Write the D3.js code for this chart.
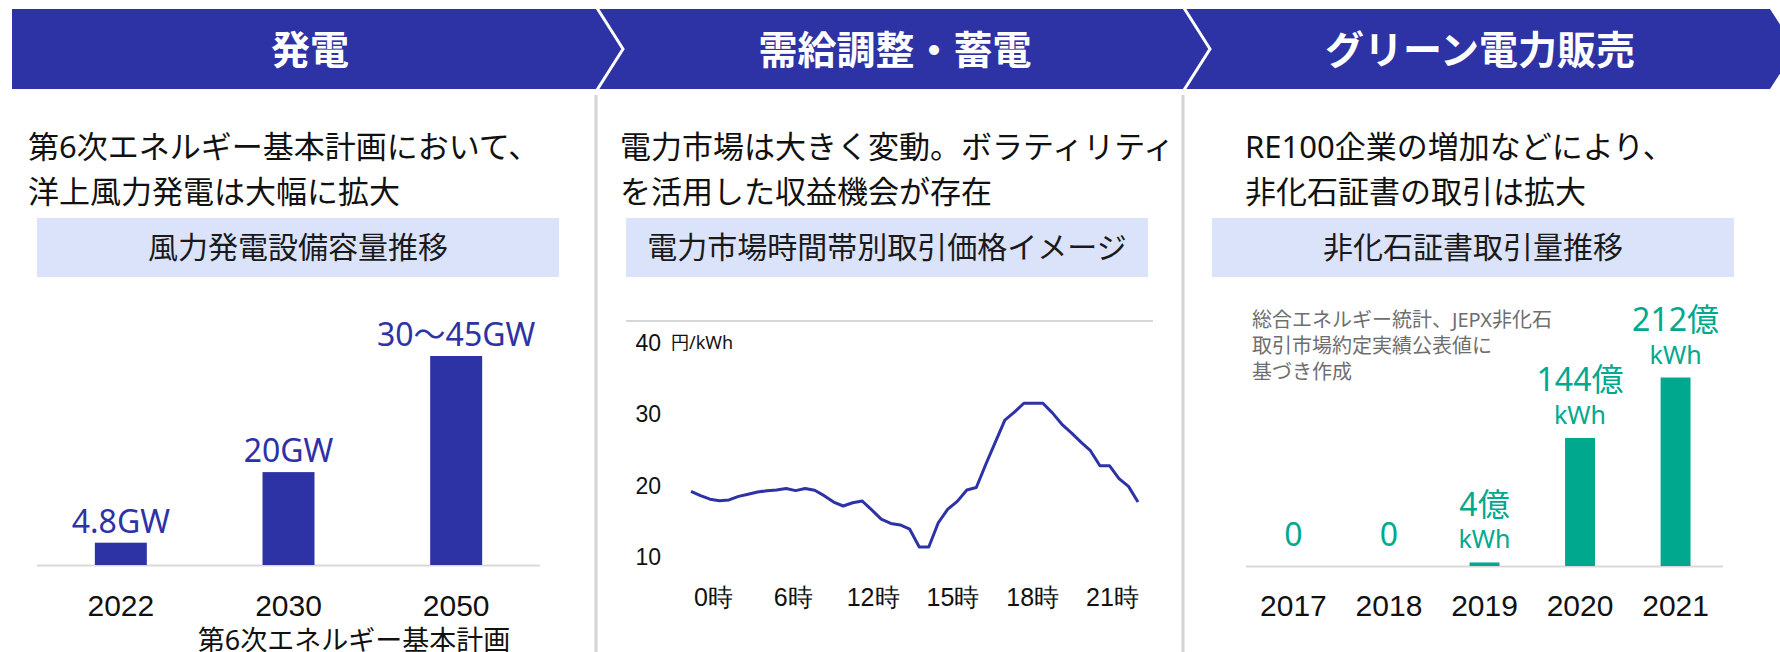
<!DOCTYPE html>
<html>
<head>
<meta charset="utf-8">
<script src="https://cdn.jsdelivr.net/npm/d3@7/dist/d3.min.js"></script>
<style>
    body { margin: 0; background: #ffffff; }
    svg { display: block; font-family: "Noto Sans", "Noto Sans CJK JP", sans-serif; }
</style>
</head>
<body>
<svg id="chart" width="1780" height="652"></svg>
<script>
// ---- texts ----
var headers = ["発電", "需給調整・蓄電", "グリーン電力販売"];
var leads = [
    ["第6次エネルギー基本計画において、", "洋上風力発電は大幅に拡大"],
    ["電力市場は大きく変動。ボラティリティ", "を活用した収益機会が存在"],
    ["RE100企業の増加などにより、", "非化石証書の取引は拡大"]
];
var boxTitles = ["風力発電設備容量推移", "電力市場時間帯別取引価格イメージ", "非化石証書取引量推移"];

// ---- panel 1: wind capacity (GW) ----
var windYears = ["2022", "2030", "2050"];
var windValues = [4.8, 20, 45];
var windLabels = ["4.8GW", "20GW", "30～45GW"];
var windNote = "第6次エネルギー基本計画";

// ---- panel 2: price by time slot (円/kWh), half-hour slots ----
var priceHours = ["0時", "6時", "12時", "15時", "18時", "21時"];
var priceTicks = [10, 20, 30, 40];
var priceValues = [19.2, 18.6, 18.1, 17.9, 18.0, 18.5, 18.8, 19.1, 19.3, 19.4, 19.6, 19.3,
    19.6, 19.35, 18.6, 17.7, 17.15, 17.6, 17.85, 16.6, 15.3, 14.7, 14.5, 13.9,
    11.4, 11.4, 14.8, 16.7, 17.8, 19.4, 19.75, 23.0, 26.1, 29.2, 30.3, 31.55,
    31.55, 31.55, 30.2, 28.6, 27.4, 26.1, 24.9, 22.8, 22.8, 21.0, 19.9, 17.7];

// ---- panel 3: non-fossil certificate volume (億kWh) ----
var certYears = ["2017", "2018", "2019", "2020", "2021"];
var certValues = [0, 0, 4, 144, 212];
var certLabels = [["0"], ["0"], ["4億", "kWh"], ["144億", "kWh"], ["212億", "kWh"]];
var sourceNote = ["総合エネルギー統計、JEPX非化石", "取引市場約定実績公表値に", "基づき作成"];

var BLUE = "#2d32a5";
var GREEN = "#00a88e";

var svg = d3.select("#chart");

// header band with chevrons
svg.append("polygon")
    .attr("points", "12,9 1770,9 1796,49 1770,89 12,89")
    .attr("fill", BLUE);
[597, 1184].forEach(function (x) {
    svg.append("polyline")
        .attr("points", x + ",8 " + (x + 26) + ",49 " + x + ",90")
        .attr("fill", "none")
        .attr("stroke", "#ffffff")
        .attr("stroke-width", 3);
    // panel separators
    svg.append("line")
        .attr("x1", x - 1).attr("x2", x - 1)
        .attr("y1", 95).attr("y2", 652)
        .attr("stroke", "#d4d4d4")
        .attr("stroke-width", 3);
});

var headerX = [310, 895, 1480];
svg.selectAll("text.header")
    .data(headers)
    .enter().append("text")
    .attr("class", "header")
    .attr("x", function (d, i) { return headerX[i]; })
    .attr("y", 50)
    .attr("dy", "0.36em")
    .attr("text-anchor", "middle")
    .attr("fill", "#ffffff")
    .attr("font-size", 39)
    .attr("font-weight", 700)
    .attr("font-family", "'Noto Sans CJK JP', sans-serif")
    .text(function (d) { return d; });

// lead texts
var leadX = [28, 620, 1245];
leads.forEach(function (lines, i) {
    lines.forEach(function (t, j) {
        svg.append("text")
            .attr("x", leadX[i])
            .attr("y", 147 + j * 45)
            .attr("dy", "0.36em")
            .attr("font-size", 31)
            .attr("fill", "#111111")
            .text(t);
    });
});

// light box titles
var boxX = [37, 626, 1212];
boxTitles.forEach(function (t, i) {
    svg.append("rect")
        .attr("x", boxX[i]).attr("y", 218)
        .attr("width", 522).attr("height", 59)
        .attr("fill", "#dae3f9");
    svg.append("text")
        .attr("x", boxX[i] + 261)
        .attr("y", 247)
        .attr("dy", "0.36em")
        .attr("text-anchor", "middle")
        .attr("font-size", 30)
        .attr("fill", "#1a1a1a")
        .text(t);
});

// ================= panel 1 =================
var x1 = d3.scaleBand().domain(windYears).range([37, 540]).paddingInner(0.69).paddingOuter(0.345);
var y1 = d3.scaleLinear().domain([0, 45]).range([565, 356]);

svg.append("line")
    .attr("x1", 37).attr("x2", 540)
    .attr("y1", 565.5).attr("y2", 565.5)
    .attr("stroke", "#d9d9d9").attr("stroke-width", 2);

svg.selectAll("rect.wind")
    .data(windValues)
    .enter().append("rect")
    .attr("class", "wind")
    .attr("x", function (d, i) { return x1(windYears[i]); })
    .attr("y", function (d) { return y1(d); })
    .attr("width", x1.bandwidth())
    .attr("height", function (d) { return y1(0) - y1(d); })
    .attr("fill", BLUE);

svg.selectAll("text.windLabel")
    .data(windValues)
    .enter().append("text")
    .attr("class", "windLabel")
    .attr("x", function (d, i) { return x1(windYears[i]) + x1.bandwidth() / 2; })
    .attr("y", function (d) { return y1(d) - 10; })
    .attr("text-anchor", "middle")
    .attr("font-size", 32)
    .attr("fill", BLUE)
    .text(function (d, i) { return windLabels[i]; });

var ax1 = svg.append("g")
    .attr("transform", "translate(0,605)")
    .call(d3.axisBottom(x1).tickSize(0));
ax1.select(".domain").remove();
ax1.selectAll("text")
    .attr("y", 0).attr("dy", "0.36em")
    .attr("font-size", 30).attr("fill", "#111111")
    .attr("font-family", null);

svg.append("text")
    .attr("x", 354).attr("y", 640)
    .attr("dy", "0.36em")
    .attr("text-anchor", "middle")
    .attr("font-size", 27)
    .attr("fill", "#111111")
    .text(windNote);

// ================= panel 2 =================
var x2 = d3.scaleLinear().domain([0, priceValues.length - 1]).range([691, 1138]);
var y2 = d3.scaleLinear().domain([10, 40]).range([557, 343]);
var xh = d3.scalePoint().domain(priceHours).range([713, 1112]);

svg.append("line")
    .attr("x1", 626).attr("x2", 1153)
    .attr("y1", 321).attr("y2", 321)
    .attr("stroke", "#c8c8c8").attr("stroke-width", 1.5);

var ay2 = svg.append("g")
    .attr("transform", "translate(661,0)")
    .call(d3.axisLeft(y2).tickValues(priceTicks).tickSize(0).tickPadding(0));
ay2.select(".domain").remove();
ay2.selectAll("text")
    .attr("font-size", 23).attr("fill", "#111111")
    .attr("font-family", null);

svg.append("text")
    .attr("x", 671).attr("y", y2(40))
    .attr("dy", "0.36em")
    .attr("font-size", 18)
    .attr("fill", "#111111")
    .text("円/kWh");

var ax2 = svg.append("g")
    .attr("transform", "translate(0,597)")
    .call(d3.axisBottom(xh).tickSize(0));
ax2.select(".domain").remove();
ax2.selectAll("text")
    .attr("y", 0).attr("dy", "0.36em")
    .attr("font-size", 25).attr("fill", "#111111")
    .attr("font-family", null);

svg.append("path")
    .datum(priceValues)
    .attr("fill", "none")
    .attr("stroke", BLUE)
    .attr("stroke-width", 3)
    .attr("stroke-linejoin", "round")
    .attr("d", d3.line()
        .x(function (d, i) { return x2(i); })
        .y(function (d) { return y2(d); }));

// ================= panel 3 =================
var x3 = d3.scaleBand().domain(certYears).range([1246, 1723]).paddingInner(0.687).paddingOuter(0.34);
var y3 = d3.scaleLinear().domain([0, 212]).range([566, 377.5]);

svg.append("line")
    .attr("x1", 1246).attr("x2", 1723)
    .attr("y1", 566.5).attr("y2", 566.5)
    .attr("stroke", "#d9d9d9").attr("stroke-width", 2);

svg.selectAll("rect.cert")
    .data(certValues)
    .enter().append("rect")
    .attr("class", "cert")
    .attr("x", function (d, i) { return x3(certYears[i]); })
    .attr("y", function (d) { return y3(d); })
    .attr("width", x3.bandwidth())
    .attr("height", function (d) { return y3(0) - y3(d); })
    .attr("fill", GREEN);

certValues.forEach(function (v, i) {
    var lines = certLabels[i];
    var cx = x3(certYears[i]) + x3.bandwidth() / 2;
    var bottom = y3(v) - (lines.length > 1 ? 23 : 32);
    lines.forEach(function (t, j) {
        var fromBottom = lines.length - 1 - j;
        svg.append("text")
            .attr("x", cx)
            .attr("y", bottom - fromBottom * 35)
            .attr("dy", "0.36em")
            .attr("text-anchor", "middle")
            .attr("font-size", j === 0 ? 32 : 25)
            .attr("fill", GREEN)
            .text(t);
    });
});

var ax3 = svg.append("g")
    .attr("transform", "translate(0,605)")
    .call(d3.axisBottom(x3).tickSize(0));
ax3.select(".domain").remove();
ax3.selectAll("text")
    .attr("y", 0).attr("dy", "0.36em")
    .attr("font-size", 30).attr("fill", "#111111")
    .attr("font-family", null);

sourceNote.forEach(function (t, j) {
    svg.append("text")
        .attr("x", 1252)
        .attr("y", 320 + j * 26)
        .attr("dy", "0.36em")
        .attr("font-size", 20)
        .attr("fill", "#6e6e6e")
        .text(t);
});
</script>
</body>
</html>
